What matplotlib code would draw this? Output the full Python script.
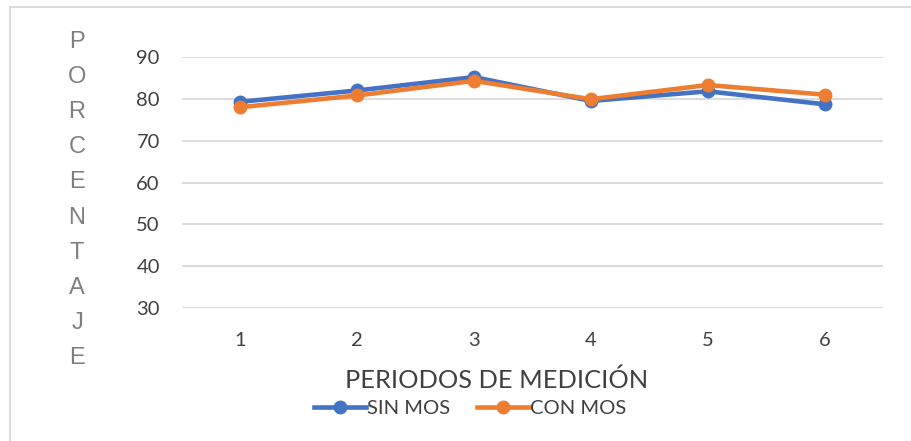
import matplotlib
matplotlib.use("Agg")
import matplotlib.pyplot as plt
from matplotlib.lines import Line2D

# datos
periodos = [1, 2, 3, 4, 5, 6]
sin_mos = [79.3, 82.0, 85.2, 79.5, 81.8, 78.7]
con_mos = [78.0, 80.8, 84.3, 79.9, 83.3, 81.0]
y_ticks = [30, 40, 50, 60, 70, 80, 90]
ylabel_letras = list("PORCENTAJE")

AZUL = "#4472C4"
NARANJA = "#ED7D31"
GRID = "#D9D9D9"
TEXTO = "#404040"

W, H = 911, 441
fig = plt.figure(figsize=(W / 100, H / 100), dpi=100)
fig.patch.set_facecolor("white")

# marco del gráfico (borde gris claro arriba e izquierda)
fig.add_artist(Line2D([10 / W, 1.0], [1 - 7 / H, 1 - 7 / H],
                      color=GRID, lw=1.3, transform=fig.transFigure))
fig.add_artist(Line2D([10 / W, 10 / W], [1 - 7 / H, 0.0],
                      color=GRID, lw=1.3, transform=fig.transFigure))

ax = fig.add_axes([182 / W, 1 - 308 / H, (883 - 182) / W, (308 - 57) / H])
ax.set_facecolor("white")

ax.plot(periodos, sin_mos, color=AZUL, lw=3.3, marker="o", ms=9,
        solid_capstyle="round", clip_on=False, zorder=3)
ax.plot(periodos, con_mos, color=NARANJA, lw=3.3, marker="o", ms=9,
        solid_capstyle="round", clip_on=False, zorder=4)

ax.set_xlim(0.5, 6.5)
ax.set_ylim(30, 90)
ax.set_yticks(y_ticks)
ax.set_xticks(periodos)
ax.set_xticklabels([str(p) for p in periodos])
ax.grid(axis="y", color=GRID, lw=1.3, zorder=0)
ax.tick_params(length=0, labelsize=14.5, labelcolor=TEXTO)
ax.tick_params(axis="y", pad=16)
ax.tick_params(axis="x", pad=17)
for lbl in ax.get_xticklabels() + ax.get_yticklabels():
    lbl.set_family("Lato")
for s in ax.spines.values():
    s.set_visible(False)

# etiqueta vertical con letras apiladas
for i, letra in enumerate(ylabel_letras):
    fig.text(77 / W, 1 - (42 + i * 35.1) / H, letra, ha="center", va="center",
             fontsize=17, color="#7F7F7F", family="Liberation Sans")

fig.text(497 / W, 1 - 380 / H, "PERIODOS DE MEDICIÓN", ha="center",
         va="center", fontsize=18.3, color=TEXTO, family="Lato")

leyenda = [
    Line2D([0], [0], color=AZUL, lw=3.3, marker="o", ms=9, label="SIN MOS"),
    Line2D([0], [0], color=NARANJA, lw=3.3, marker="o", ms=9, label="CON MOS"),
]
leg = fig.legend(handles=leyenda, loc="center", bbox_to_anchor=(470 / W, 1 - 408 / H),
                 ncol=2, frameon=False, handlelength=2.6, handletextpad=0.05,
                 columnspacing=1.3, prop={"family": "Lato", "size": 14.5})
for t in leg.get_texts():
    t.set_color(TEXTO)

plt.savefig("out.png", dpi=100, facecolor=fig.get_facecolor())
plt.close()
